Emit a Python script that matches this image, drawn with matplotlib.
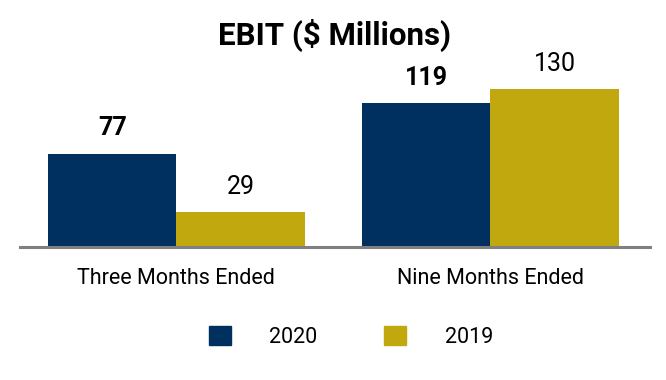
import matplotlib.pyplot as plt
import numpy as np
from matplotlib.patches import Patch

plt.rcParams['font.family'] = ['Roboto', 'DejaVu Sans']

# chart data
periods = ['Three Months Ended', 'Nine Months Ended']
series_names = ['2020', '2019']
ebit_2020 = [77, 119]
ebit_2019 = [29, 130]

NAVY = '#00305F'
GOLD = '#C0A80E'

fig = plt.figure(figsize=(6.66, 3.8), dpi=100)
ax = fig.add_axes([20 / 666, 1 - 247 / 380, 630 / 666, 194 / 380])

x = np.arange(len(periods))
w = 0.409
b1 = ax.bar(x - w / 2, ebit_2020, w, color=NAVY)
b2 = ax.bar(x + w / 2, ebit_2019, w, color=GOLD)

for rect, v in zip(b1, ebit_2020):
    ax.annotate(str(v), (rect.get_x() + rect.get_width() / 2, v),
                xytext=(0, 9.5), textcoords='offset points',
                ha='center', va='bottom', fontsize=18, fontweight='bold')
for rect, v in zip(b2, ebit_2019):
    ax.annotate(str(v), (rect.get_x() + rect.get_width() / 2, v),
                xytext=(0, 9.5), textcoords='offset points',
                ha='center', va='bottom', fontsize=18)

ax.set_xlim(-0.498, 1.508)
ax.set_ylim(0, 160)
for s in ['top', 'right', 'left']:
    ax.spines[s].set_visible(False)
ax.spines['bottom'].set_color('#808080')
ax.spines['bottom'].set_linewidth(2.2)
ax.set_yticks([])
ax.set_xticks(x)
ax.set_xticklabels(periods, fontsize=15.5)
ax.tick_params(axis='x', length=0, pad=15)

fig.text(335 / 666, 1 - 35 / 380, 'EBIT ($ Millions)', ha='center', va='center',
         fontsize=22.5, fontweight='bold')

handles = [Patch(color=NAVY), Patch(color=GOLD)]
fig.legend(handles, series_names, loc='center', bbox_to_anchor=(351 / 666, 1 - 337 / 380),
           ncol=2, frameon=False, fontsize=15.5, handlelength=1.0, handleheight=1.0,
           handletextpad=1.8, columnspacing=3.1)

fig.savefig('out.png', dpi=100)
